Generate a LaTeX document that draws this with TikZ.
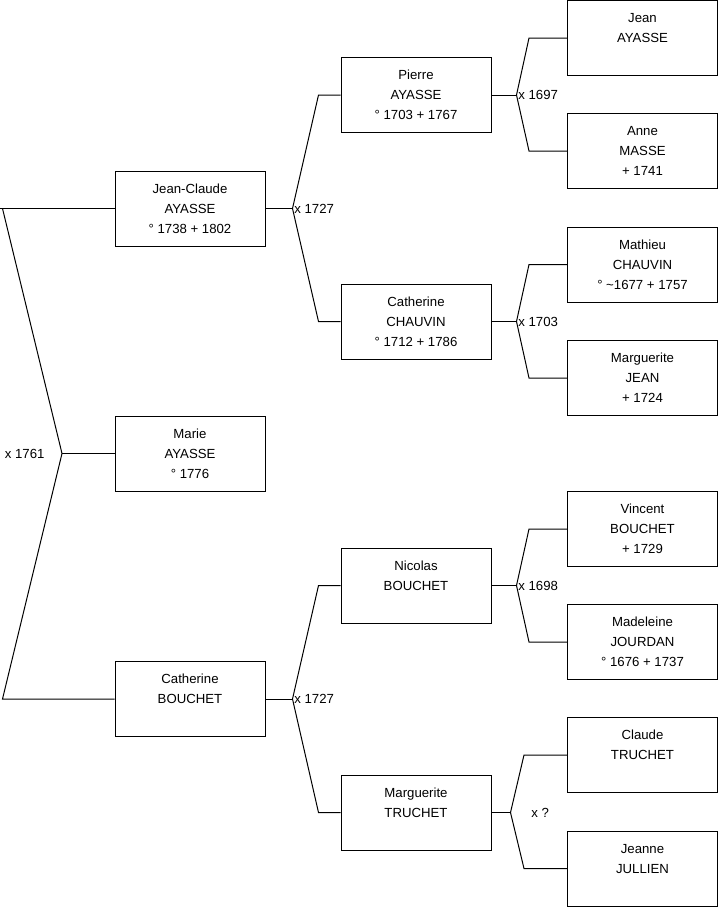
\documentclass[tikz,border=0pt]{standalone}
\usepackage{fontspec}
\setmainfont{Liberation Sans}
\usetikzlibrary{calc}

\begin{document}
\begin{tikzpicture}[x=0.75pt,y=-0.75pt,line width=0.75pt,
  person/.style={draw,minimum width=112.5pt,minimum height=56.25pt,inner sep=0pt,
    align=center,font=\fontsize{9.9}{15}\selectfont},
  mar/.style={anchor=west,inner sep=1pt,font=\fontsize{9.9}{11}\selectfont}]
  \useasboundingbox (0,0) rectangle (719,908);
  % generation 1
  \node[person] (jc) at (190,208.5) {Jean-Claude\\AYASSE\\° 1738 + 1802};
  \node[person] (marie) at (190,453.5) {Marie\\AYASSE\\° 1776};
  \node[person] (cb) at (190,699) {Catherine\\BOUCHET\\\mbox{}};
  % generation 2
  \node[person] (pierre) at (416,95) {Pierre\\AYASSE\\° 1703 + 1767};
  \node[person] (cc) at (416,321.5) {Catherine\\CHAUVIN\\° 1712 + 1786};
  \node[person] (nicolas) at (416,585.5) {Nicolas\\BOUCHET\\\mbox{}};
  \node[person] (mt) at (416,812.5) {Marguerite\\TRUCHET\\\mbox{}};
  % generation 3
  \node[person] (jean) at (642.5,38) {Jean\\AYASSE\\\mbox{}};
  \node[person] (anne) at (642.5,151) {Anne\\MASSE\\+ 1741};
  \node[person] (mathieu) at (642.5,264.5) {Mathieu\\CHAUVIN\\° \textasciitilde1677 + 1757};
  \node[person] (mj) at (642.5,378) {Marguerite\\JEAN\\+ 1724};
  \node[person] (vincent) at (642.5,529) {Vincent\\BOUCHET\\+ 1729};
  \node[person] (madeleine) at (642.5,642) {Madeleine\\JOURDAN\\° 1676 + 1737};
  \node[person] (claude) at (642.5,755) {Claude\\TRUCHET\\\mbox{}};
  \node[person] (jeanne) at (642.5,868.5) {Jeanne\\JULLIEN\\\mbox{}};

  % marriage of the parents
  \coordinate (w) at (62,453.5);
  \draw (jc.west) -- ++(-115,0);
  \draw ($(jc.west)+(-112,0)$) -- (w) -- ($(cb.west)+(-112,0)$) -- (cb.west);
  \draw (w) -- (marie.west);
  \node[anchor=east,inner sep=0pt,font=\fontsize{9.9}{11}\selectfont] at ($(w)+(-17,0)$) {x 1761};

  % child -- fork -- father / mother
  \foreach \c/\f/\m/\d/\e/\t in {jc/pierre/cc/27/22/x 1727, cb/nicolas/mt/27/22/x 1727,
      pierre/jean/anne/25/38/x 1697, cc/mathieu/mj/25/38/x 1703,
      nicolas/vincent/madeleine/25/38/x 1698} {
    \draw (\c.east) -- ++(\d,0) coordinate (j) node[mar] {\t};
    \draw (\f.west) -- ++(-\e,0) -- (j) -- ($(\m.west)+(-\e,0)$) -- (\m.west);
  }
  \draw (mt.east) -- ++(19,0) coordinate (j);
  \draw (claude.west) -- ++(-43,0) -- (j) -- ($(jeanne.west)+(-43,0)$) -- (jeanne.west);
  \node[mar] at ($(j)+(19,0)$) {x ?};
\end{tikzpicture}
\end{document}
